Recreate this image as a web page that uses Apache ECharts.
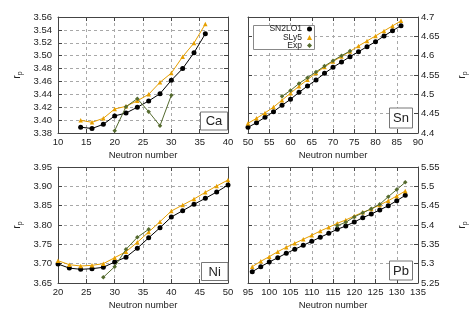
<!DOCTYPE html>
<html><head><meta charset="utf-8">
<script src="https://cdn.jsdelivr.net/npm/echarts@6/dist/echarts.min.js"></script>
<style>html,body{margin:0;padding:0;background:#fff}#c{width:475px;height:332px}</style>
</head><body><div id="c"></div>
<script>
// ---- Data ----
const caN = [14,16,18,20,22,24,26,28,30,32,34,36];
const caSN2LO1 = [3.389,3.387,3.3935,3.4065,3.411,3.420,3.4297,3.441,3.4618,3.480,3.5046,3.534];
const caSLy5 = [3.3997,3.3966,3.4028,3.4172,3.4214,3.430,3.440,3.4587,3.473,3.4984,3.5197,3.549];
const caExpN = [20,22,24,26,28,30];
const caExp = [3.3836,3.4208,3.4333,3.413,3.3913,3.4385];

const snN = [50,52,54,56,58,60,62,64,66,68,70,72,74,76,78,80,82,84,86];
const snSN2LO1 = [4.4147,4.4267,4.4405,4.4551,4.4716,4.4871,4.5052,4.5215,4.537,4.5543,4.5698,4.5836,4.5973,4.6103,4.6233,4.6362,4.6508,4.6646,4.6775];
const snSLy5 = [4.425,4.438,4.452,4.467,4.485,4.503,4.521,4.538,4.555,4.571,4.585,4.598,4.611,4.625,4.638,4.651,4.664,4.677,4.690];
const snExpN = [58,60,62,64,66,68,70,72,74];
const snExp = [4.495,4.510,4.528,4.543,4.558,4.573,4.587,4.600,4.612];

const niN = [20,22,24,26,28,30,32,34,36,38,40,42,44,46,48,50];
const niSN2LO1 = [3.6991,3.6885,3.6854,3.687,3.6906,3.7043,3.7168,3.74,3.7668,3.793,3.8207,3.837,3.8535,3.869,3.8853,3.9034];
const niSLy5 = [3.7077,3.6974,3.694,3.6957,3.700,3.7155,3.731,3.7552,3.7819,3.8086,3.8362,3.8517,3.8672,3.8845,3.9008,3.9164];
const niExpN = [28,30,32,34,36];
const niExp = [3.6647,3.6922,3.7371,3.7682,3.7889];

const pbN = [96,98,100,102,104,106,108,110,112,114,116,118,120,122,124,126,128,130,132];
const pbSN2LO1 = [5.2792,5.2922,5.3043,5.3154,5.3268,5.3371,5.3475,5.3578,5.3682,5.3785,5.3888,5.3974,5.4077,5.4189,5.4284,5.4388,5.4499,5.4628,5.4767];
const pbSLy5 = [5.2922,5.3061,5.3181,5.331,5.3424,5.3527,5.3631,5.3734,5.3845,5.3941,5.4044,5.4129,5.4233,5.4328,5.4414,5.4517,5.4628,5.475,5.4879];
const pbExpN = [116,118,120,122,124,126,128,130,132];
const pbExp = [5.3982,5.4070,5.4210,5.4315,5.4420,5.4535,5.4732,5.4915,5.5104];

const caYTicks = ['3.38','3.40','3.42','3.44','3.46','3.48','3.50','3.52','3.54','3.56'];
const snYTicks = ['4.4','4.45','4.5','4.55','4.6','4.65','4.7'];
const niYTicks = ['3.65','3.70','3.75','3.80','3.85','3.90','3.95'];
const pbYTicks = ['5.25','5.3','5.35','5.4','5.45','5.5','5.55'];
const caXTicks = ['10','15','20','25','30','35','40'];
const snXTicks = ['50','55','60','65','70','75','80','85','90'];
const niXTicks = ['20','25','30','35','40','45','50'];
const pbXTicks = ['95','100','105','110','115','120','125','130','135'];

const seriesNames = ['SN2LO1','SLy5','Exp'];
const panelNames = ['Ca','Sn','Ni','Pb'];
const xTitle = 'Neutron number';

// ---- Layout / style ----
const FONT = 'Liberation Sans';
const TXT = '#222';
const AX = '#444';
const GRIDC = '#a8a8a8';
const COLORS = ['#000000','#e69f00','#556b2f'];
const SYMBOLS = ['circle','triangle','diamond'];
const SYMSIZE = [5,4.5,4.5];

const grids = [
  {left:58, top:17, width:170, height:116},
  {left:248, top:17, width:170, height:116},
  {left:58, top:167, width:170, height:116},
  {left:248, top:167, width:170, height:116}
];
const xTicksAll = [caXTicks, snXTicks, niXTicks, pbXTicks];
const yTicksAll = [caYTicks, snYTicks, niYTicks, pbYTicks];
const yInterval = [0.02, 0.05, 0.05, 0.05];
const rightLabels = [false, true, false, true];
const panelData = [
  [[caN,caSN2LO1],[caN,caSLy5],[caExpN,caExp]],
  [[snN,snSN2LO1],[snN,snSLy5],[snExpN,snExp]],
  [[niN,niSN2LO1],[niN,niSLy5],[niExpN,niExp]],
  [[pbN,pbSN2LO1],[pbN,pbSLy5],[pbExpN,pbExp]]
];

function lookup(ticks){
  return function(v){
    for (const t of ticks) if (Math.abs(parseFloat(t)-v) < 1e-6) return t;
    return '';
  };
}

const xAxis = [], yAxis = [], series = [];
grids.forEach((g, i) => {
  const xt = xTicksAll[i], yt = yTicksAll[i];
  const xmin = parseFloat(xt[0]), xmax = parseFloat(xt[xt.length-1]);
  const ymin = parseFloat(yt[0]), ymax = parseFloat(yt[yt.length-1]);
  const common = {
    type:'value', gridIndex:i,
    axisLine:{show:true, onZero:false, lineStyle:{color:AX, width:1}},
    axisTick:{show:true, inside:true, length:4, lineStyle:{color:AX}},
  };
  xAxis.push(Object.assign({}, common, {
    position:'bottom', min:xmin, max:xmax, interval:5,
    axisLabel:{fontFamily:FONT, fontSize:9.5, color:TXT, margin:4, formatter:lookup(xt)},
    splitLine:{show:true, lineStyle:{color:GRIDC, type:[3,3], width:1}},
    name:xTitle, nameLocation:'middle', nameGap:17,
    nameTextStyle:{fontFamily:FONT, fontSize:9.5, color:TXT}
  }));
  xAxis.push(Object.assign({}, common, {
    position:'top', min:xmin, max:xmax, interval:5,
    axisLabel:{show:false}, splitLine:{show:false}
  }));
  const side = rightLabels[i] ? 'right' : 'left';
  const other = rightLabels[i] ? 'left' : 'right';
  yAxis.push(Object.assign({}, common, {
    position:side, min:ymin, max:ymax, interval:yInterval[i],
    axisLabel:{fontFamily:FONT, fontSize:9.5, color:TXT, margin:rightLabels[i]?3:6, formatter:lookup(yt)},
    splitLine:{show:true, lineStyle:{color:GRIDC, type:[3,3], width:1}},
    name:'{r|r}{p|p}', nameLocation:'middle', nameGap:rightLabels[i]?38:34, nameRotate:90,
    nameTextStyle:{fontFamily:FONT, color:TXT, rich:{
      r:{fontFamily:FONT, fontSize:10.5, color:TXT},
      p:{fontFamily:FONT, fontSize:7, color:TXT, padding:[6,0,0,0]}
    }}
  }));
  yAxis.push(Object.assign({}, common, {
    position:other, min:ymin, max:ymax, interval:yInterval[i],
    axisLabel:{show:false}, splitLine:{show:false}
  }));
  panelData[i].forEach((d, k) => {
    series.push({
      type:'line', name:seriesNames[k], xAxisIndex:2*i, yAxisIndex:2*i,
      data:d[0].map((n, j) => [n, d[1][j]]),
      symbol:SYMBOLS[k], symbolSize:SYMSIZE[k], showSymbol:true,
      color:COLORS[k],
      lineStyle:{color:COLORS[k], width:1},
      itemStyle:{color:COLORS[k]},
      z:3+k, animation:false
    });
  });
});

const legendTops = [24.5, 33, 41];
const legends = seriesNames.map((nm, k) => ({
  data:[{name:nm, icon:SYMBOLS[k]}],
  orient:'vertical', align:'right', right:163, top:legendTops[k],
  padding:0, itemWidth:5, itemHeight:5, itemGap:0,
  textStyle:{fontFamily:FONT, fontSize:8.5, color:TXT, padding:[0,0,0,0]},
  selectedMode:false, z:20
}));

const labelBoxes = [
  {x:200, y:111.5, w:27, h:18},
  {x:389, y:107.5, w:23, h:20},
  {x:201, y:262, w:26.5, h:18},
  {x:389, y:260.5, w:23, h:19}
];
const graphic = [
  {type:'rect', shape:{x:253.5, y:25.5, width:61, height:24}, style:{fill:'#fff', stroke:'#888', lineWidth:1}, z:15}
];
labelBoxes.forEach((b, i) => {
  graphic.push({type:'rect', shape:{x:b.x+0.5, y:b.y+0.5, width:b.w, height:b.h}, style:{fill:'#fff', stroke:'#777', lineWidth:1}, z:15});
  graphic.push({type:'text', x:b.x+b.w/2+0.5, y:b.y+b.h/2+1, style:{text:panelNames[i], fontFamily:FONT, fontSize:13, fill:TXT, align:'center', verticalAlign:'middle'}, z:16});
});

const chart = echarts.init(document.getElementById('c'), null, {renderer:'canvas'});
chart.setOption({
  backgroundColor:'#fff',
  animation:false,
  grid:grids,
  xAxis:xAxis, yAxis:yAxis,
  legend:legends,
  graphic:graphic,
  series:series
});
</script>
</body></html>
